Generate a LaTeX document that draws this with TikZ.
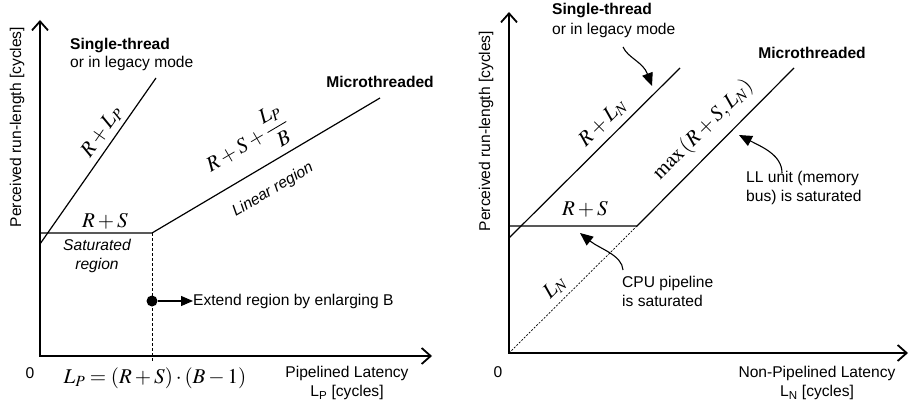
\documentclass[tikz,border=0pt]{standalone}
\usepackage{mathptmx}
\usepackage[no-math]{fontspec}
\setmainfont{Liberation Sans}
\usetikzlibrary{arrows.meta}
\tikzset{
  axis/.style={line width=1.8pt, {Straight Barb[length=9pt,width=16pt]}-{Straight Barb[length=9pt,width=16pt]}},
  curveline/.style={line width=1.2pt},
  lbl/.style={font=\fontsize{15.6}{19}\selectfont, inner sep=0pt},
  bold/.style={lbl, font=\fontsize{15.6}{19}\selectfont\bfseries},
  ital/.style={lbl, font=\fontsize{15.6}{19}\selectfont\itshape},
  mth/.style={font=\fontsize{21}{24}\selectfont, inner sep=0pt},
  guide/.style={line width=0.8pt, dash pattern=on 3pt off 2pt},
  fineguide/.style={line width=0.7pt, dash pattern=on 2pt off 1.5pt},
  tip/.style={-{Triangle[length=13pt,width=11pt]}, line width=1.1pt},
  dotnode/.style={circle, fill=black, minimum size=11pt, inner sep=0pt},
}
\begin{document}
\begin{tikzpicture}[x=1pt,y=1pt]
\useasboundingbox (0,0) rectangle (910,405);
\fill[white] (0,0) rectangle (910,405);
% ---------------- left chart ----------------
\coordinate (O1) at (40,49);
\coordinate (Y1) at (40,385);
\coordinate (X1) at (432,49);
\coordinate (S1a) at (40,161);
\coordinate (S1b) at (156,327);
\coordinate (H1) at (40,172);
\coordinate (K1) at (152,172);
\coordinate (M1) at (380,307);
\coordinate (D1) at (152,43);
\draw[guide] (K1) -- (D1);
\draw[axis] (Y1) -- (O1) -- (X1);
\draw[curveline] (S1a) -- (S1b);
\draw[curveline] (H1) -- (K1) -- (M1);
\node[dotnode] (dot) at (152,104) {};
\node[lbl, anchor=west] (ext) at (193,104) {Extend region by enlarging B};
\draw[-{Triangle[length=12pt,width=10pt]}, line width=1.1pt] (dot) -- (ext.west);
\node[lbl, rotate=90] (ylab1) at (17,278) {Perceived run-length [cycles]};
\node[bold, anchor=west] (st1) at (70,359) {Single-thread};
\node[lbl, anchor=west] (leg1) at (70,342) {or in legacy mode};
\node[bold] (mt1) at (380,323) {Microthreaded};
\node[mth, rotate=55] (rl1) at (102,273) {$R+L_P$};
\node[mth, rotate=30.6] (rsl1) at (247,262) {$\displaystyle R+S+\frac{L_P}{B}$};
\node[ital, rotate=30.6] (lin1) at (273,215) {Linear region};
\node[mth] (rs1) at (105,184) {$R+S$};
\node[ital, align=center] (sat1) at (97,149) {Saturated\\region};
\node[lbl] (zero1) at (30,32) {0};
\node[mth] (lp1) at (155,27) {$L_P=(R+S)\cdot(B-1)$};
\node[lbl, align=center] (xl1) at (347,22) {Pipelined Latency\\L\textsubscript{P} [cycles]};
% ---------------- right chart ----------------
\coordinate (O2) at (509,52);
\coordinate (Y2) at (509,393);
\coordinate (X2) at (908,52);
\coordinate (S2a) at (509,167);
\coordinate (S2b) at (680,337);
\coordinate (H2) at (509,179);
\coordinate (K2) at (637,179);
\coordinate (M2) at (794,337);
\draw[fineguide] (O2) -- (K2);
\draw[axis] (Y2) -- (O2) -- (X2);
\draw[curveline] (S2a) -- (S2b);
\draw[curveline] (H2) -- (K2) -- (M2);
\node[lbl, rotate=90] (ylab2) at (486,274) {Perceived run-length [cycles]};
\node[bold, anchor=west] (st2) at (552,394) {Single-thread};
\node[lbl, anchor=west] (leg2) at (552,375) {or in legacy mode};
\node[bold] (mt2) at (812,352) {Microthreaded};
\node[mth, rotate=45] (rl2) at (603,282) {$R+L_N$};
\node[mth, rotate=45] (mx2) at (703,275) {$\max\left(R+S,L_N\right)$};
\node[mth] (rs2) at (585,196) {$R+S$};
\node[mth, rotate=45] (ln2) at (555,117) {$L_N$};
\node[lbl, anchor=west, align=left] (ll2) at (746,217) {LL unit (memory\\bus) is saturated};
\node[lbl, anchor=west, align=left] (cpu2) at (622,113.5) {CPU pipeline\\is saturated};
\node[lbl] (zero2) at (498,33) {0};
\node[lbl, align=center] (xl2) at (817,22) {Non-Pipelined Latency\\L\textsubscript{N} [cycles]};
\coordinate (c1s) at (623,358);
\coordinate (c1e) at (652,319);
\coordinate (c2s) at (782,232);
\coordinate (c2e) at (739,270);
\coordinate (c3s) at (623,135);
\coordinate (c3e) at (580,172);
\draw[tip] (c1s) .. controls (628,347) and (643,343) .. (c1e);
\draw[tip] (c2s) .. controls (782,250) and (762,258) .. (c2e);
\draw[tip] (c3s) .. controls (622,150) and (600,156) .. (c3e);
\end{tikzpicture}
\end{document}
